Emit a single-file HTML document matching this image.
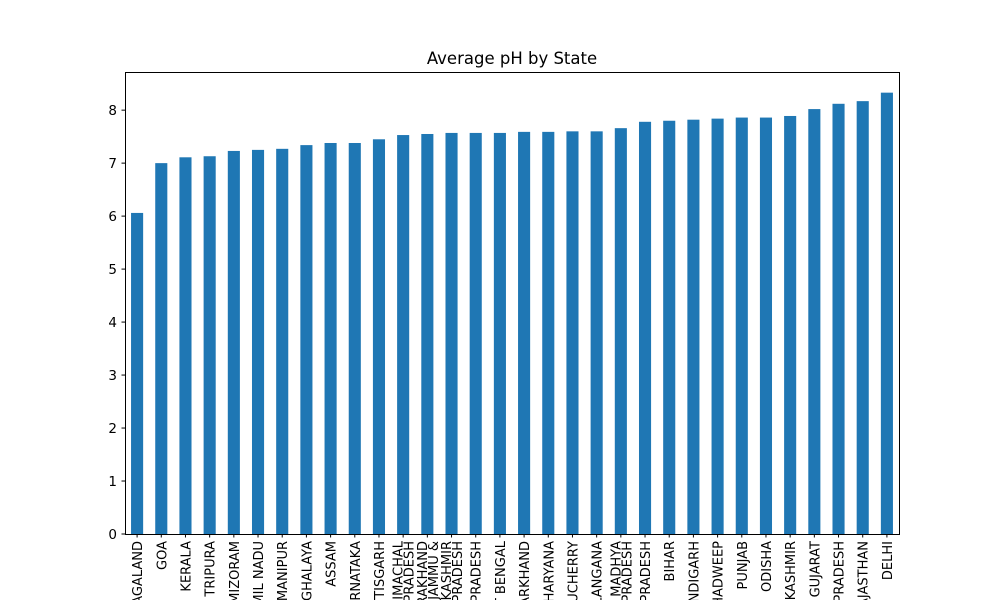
<!DOCTYPE html>
<html><head><meta charset="utf-8"><style>
html,body{margin:0;background:#fff;width:1000px;height:600px;overflow:hidden}
svg{display:block;overflow:hidden;font-family:"DejaVu Sans","Liberation Sans",sans-serif}
</style></head><body>
<svg id="chart" width="1000" height="600" viewBox="0 0 1000 600">
<defs><clipPath id="frameclip"><rect x="0" y="0" width="1000" height="600"/></clipPath></defs>
<rect width="1000" height="600" fill="#fff"/>
<text x="512" y="64" text-anchor="middle" font-size="16.5">Average pH by State</text>
<g id="bars"></g><g id="yaxis"></g><g id="xaxis" clip-path="url(#frameclip)"></g>
<rect x="125.5" y="72.5" width="774" height="462" fill="none" stroke="#000" stroke-width="1"/>
</svg>
<script>
const categories = [["NAGALAND"],["GOA"],["KERALA"],["TRIPURA"],["MIZORAM"],["TAMIL NADU"],["MANIPUR"],["MEGHALAYA"],["ASSAM"],["KARNATAKA"],["CHHATTISGARH"],["HIMACHAL","PRADESH"],["UTTARAKHAND","JAMMU &"],["KASHMIR","ANDHRA PRADESH"],["ARUNACHAL PRADESH"],["WEST BENGAL"],["JHARKHAND"],["HARYANA"],["PUDUCHERRY"],["TELANGANA"],["MADHYA","PRADESH"],["UTTAR PRADESH"],["BIHAR"],["CHANDIGARH"],["LAKSHADWEEP"],["PUNJAB"],["ODISHA"],["JAMMU AND KASHMIR"],["GUJARAT"],["ANDHRA PRADESH"],["RAJASTHAN"],["DELHI"]];
const values = [6.06,7.00,7.11,7.13,7.23,7.25,7.27,7.34,7.38,7.38,7.45,7.53,7.55,7.57,7.57,7.57,7.59,7.59,7.60,7.60,7.66,7.78,7.80,7.82,7.84,7.86,7.86,7.89,8.02,8.12,8.17,8.33];
const yTicks = [0,1,2,3,4,5,6,7,8];
const NS="http://www.w3.org/2000/svg";
const L=125,R=899,T=72,B=534;
const yMin=0,yMax=8.72;
function y(v){return B-(v-yMin)/(yMax-yMin)*(B-T);}
const step=(R-L)/categories.length;
function x(i){return L+step*(i+0.5);}
const bars=document.getElementById('bars'),ya=document.getElementById('yaxis'),xa=document.getElementById('xaxis');
values.forEach((v,i)=>{
  const r=document.createElementNS(NS,'rect');
  r.setAttribute('x',x(i)-step*0.25);r.setAttribute('width',step*0.5);
  r.setAttribute('y',y(v));r.setAttribute('height',y(0)-y(v));
  r.setAttribute('fill','#1f77b4');
  
  
  bars.appendChild(r);
});
yTicks.forEach(t=>{
  const ln=document.createElementNS(NS,'line');
  ln.setAttribute('x1',L-3.5);ln.setAttribute('x2',L);ln.setAttribute('y1',y(t));ln.setAttribute('y2',y(t));ln.setAttribute('stroke','#000');
  
  
  ya.appendChild(ln);
  const tx=document.createElementNS(NS,'text');
  tx.setAttribute('x',L-8);tx.setAttribute('y',y(t)+5);tx.setAttribute('text-anchor','end');tx.setAttribute('font-size','13.5');
  tx.textContent=t;
  
  
  ya.appendChild(tx);
});
categories.forEach((lines,i)=>{
  const cx=x(i);
  const ln=document.createElementNS(NS,'line');
  ln.setAttribute('x1',cx);ln.setAttribute('x2',cx);ln.setAttribute('y1',B);ln.setAttribute('y2',B+3.5);ln.setAttribute('stroke','#000');
  
  
  xa.appendChild(ln);
  const n=lines.length;
  lines.forEach((s,j)=>{
    const lx=cx+(j-(n-1)/2)*11;
    const tx=document.createElementNS(NS,'text');
    tx.setAttribute('transform','translate('+(lx+5)+',541) rotate(-90)');
    tx.setAttribute('text-anchor','end');tx.setAttribute('font-size','13');
    tx.textContent=s;
    
    
    xa.appendChild(tx);
  });
});
</script>
</body></html>
